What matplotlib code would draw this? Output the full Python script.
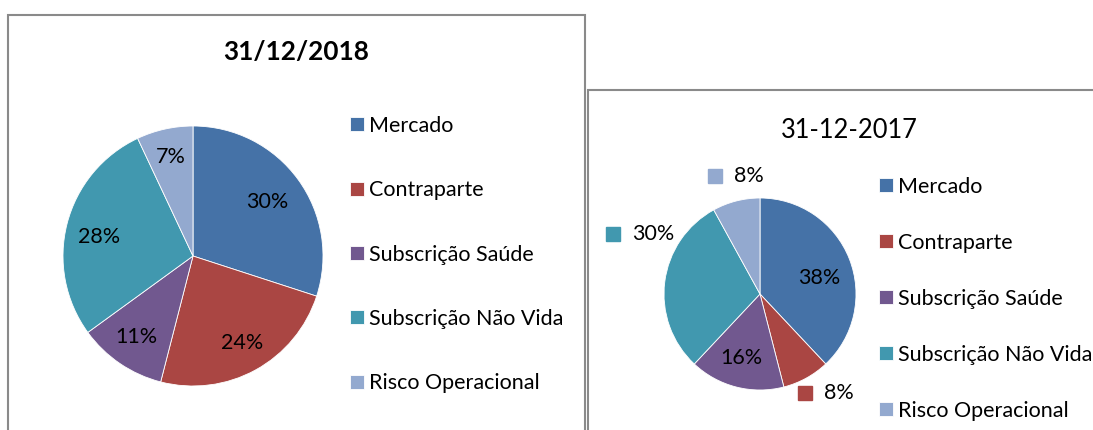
import numpy as np
import matplotlib
matplotlib.use("Agg")
import matplotlib.pyplot as plt
from matplotlib.patches import Rectangle
from matplotlib.transforms import offset_copy

categorias = ["Mercado", "Contraparte", "Subscrição Saúde",
              "Subscrição Não Vida", "Risco Operacional"]
valores_2018 = [30, 24, 11, 28, 7]
valores_2017 = [38, 8, 16, 30, 8]
titulo_2018 = "31/12/2018"
titulo_2017 = "31-12-2017"
cores = ["#4572A7", "#AA4643", "#71588F", "#4198AF", "#93A9CF"]

W, H = 1093, 430
FS = 15.5
plt.rcParams["font.family"] = ["Lato", "DejaVu Sans"]

fig = plt.figure(figsize=(W / 100, H / 100), dpi=100)


def caixa(x0, y0, x1, y1):
    # moldura do gráfico, em pixels (y a partir do topo)
    fig.add_artist(Rectangle((x0 / W, 1 - y1 / H), (x1 - x0) / W, (y1 - y0) / H,
                             transform=fig.transFigure, fill=False,
                             edgecolor="#8a8a8a", lw=1.5))


def eixo_pizza(cx, cy, r):
    return fig.add_axes([(cx - r) / W, 1 - (cy + r) / H, 2 * r / W, 2 * r / H])


def pizza(ax, valores, rotulos_cfg):
    wedges, _ = ax.pie(valores, colors=cores, startangle=90, counterclock=False,
                       radius=1, wedgeprops=dict(edgecolor="white", linewidth=0.6))
    ax.set_xlim(-1, 1)
    ax.set_ylim(-1, 1)
    ax.axis("off")
    for w, v, (dist, dang, chave) in zip(wedges, valores, rotulos_cfg):
        ang = np.deg2rad((w.theta1 + w.theta2) / 2 + dang)
        x, y = dist * np.cos(ang), dist * np.sin(ang)
        if chave:
            # rótulo fora da fatia, com a chave da legenda à esquerda
            ax.text(x, y, f"{v}%", ha="left", va="center", fontsize=FS, clip_on=False)
            tr = offset_copy(ax.transData, fig=fig, x=-19, y=0, units="dots")
            ax.plot([x], [y], marker="s", ms=10, color=w.get_facecolor(),
                    transform=tr, clip_on=False, lw=0)
        else:
            ax.text(x, y, f"{v}%", ha="center", va="center", fontsize=FS)
    return wedges


def legenda(wedges, x, y, spacing):
    fig.legend(wedges, categorias, loc="upper left",
               bbox_to_anchor=(x / W, 1 - y / H), frameon=False, fontsize=FS,
               handlelength=0.65, handleheight=0.62, handletextpad=0.22,
               labelspacing=spacing, borderpad=0, borderaxespad=0)


caixa(8, 15, 585, 440)
caixa(588, 90, 1100, 440)

ax1 = eixo_pizza(193, 256, 130)
w1 = pizza(ax1, valores_2018,
           [(0.71, 0, False), (0.77, 0.6, False), (0.76, -0.5, False),
            (0.74, 3, False), (0.78, 0, False)])
legenda(w1, 350, 116, 2.06)
fig.text(296 / W, 1 - 52 / H, titulo_2018, ha="center", va="center",
         fontsize=18.8, fontweight="bold")

ax2 = eixo_pizza(760, 294, 96)
w2 = pizza(ax2, valores_2017,
           [(0.64, -6.4, False), (1.23, 4.1, True), (0.70, -2, False),
            (1.47, -17.9, True), (1.26, -2, True)])
legenda(w2, 879, 177, 1.67)
fig.text(849 / W, 1 - 130 / H, titulo_2017, ha="center", va="center",
         fontsize=18.4)

fig.savefig("out.png", dpi=100)
